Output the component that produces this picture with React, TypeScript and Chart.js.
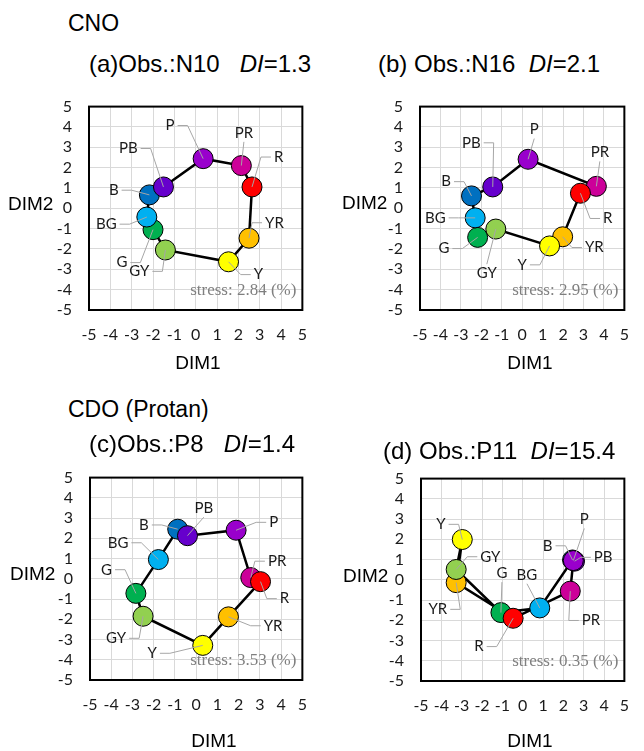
import React, { useEffect, useRef } from "react";
import { Chart, registerables } from "chart.js";
Chart.register(...registerables);

// Colour categories (loop order used for the connecting line)
const categories = ["R", "YR", "Y", "GY", "G", "BG", "B", "PB", "P", "PR"];
const pointColors = ["#FF0000", "#FFC000", "#FFFF00", "#92D050", "#00B050", "#00B0F0", "#0070C0", "#6600CC", "#9900CC", "#CC0099"];
// order in which markers are stacked (last on top)
const drawOrder = ["PR", "G", "R", "YR", "Y", "GY", "BG", "B", "PB", "P"];
const axisMin = -5;
const axisMax = 5;

// (a) Obs.:N10
const dim1A = [2.64, 2.5, 1.54, -1.42, -2.0, -2.29, -2.17, -1.51, 0.35, 2.14];
const dim2A = [1.05, -1.47, -2.63, -2.05, -1.05, -0.43, 0.66, 1.05, 2.44, 2.1];
const labelXA = [3.89, 3.69, 2.94, -2.64, -3.46, -4.19, -3.84, -3.16, -1.2, 2.26];
const labelYA = [2.52, -0.71, -3.26, -3.1, -2.67, -0.78, 0.89, 2.94, 4.07, 3.71];
const stressA = "stress: 2.84 (%)";

// (b) Obs.:N16
const dim1B = [2.85, 1.98, 1.34, -1.29, -2.18, -2.3, -2.48, -1.44, 0.29, 3.63];
const dim2B = [0.74, -1.4, -1.85, -1.02, -1.43, -0.47, 0.61, 1.05, 2.41, 1.08];
const labelXB = [4.19, 3.53, 0.0, -1.73, -3.83, -4.25, -3.72, -2.49, 0.59, 3.8];
const labelYB = [-0.5, -1.93, -2.78, -3.19, -1.98, -0.47, 1.31, 3.22, 3.87, 2.75];
const stressB = "stress: 2.95 (%)";

// (c) Obs.:P8
const dim1C = [3.03, 1.52, 0.31, -2.5, -2.84, -1.78, -0.87, -0.41, 1.88, 2.57];
const dim2C = [-0.14, -1.88, -3.29, -1.85, -0.72, 0.95, 2.45, 2.13, 2.4, 0.06];
const labelXC = [4.16, 3.62, -2.07, -3.77, -4.22, -3.68, -2.46, 0.36, 3.65, 3.81];
const labelYC = [-0.98, -2.32, -3.68, -2.94, 0.45, 1.78, 2.66, 3.49, 2.79, 0.87];
const stressC = "stress: 3.53 (%)";

// (d) Obs.:P11
const dim1D = [-0.47, -3.27, -2.97, -3.27, -1.07, 0.84, 2.45, 2.55, 2.49, 2.34];
const dim2D = [-1.9, -0.14, 1.99, 0.51, -1.62, -1.39, 0.98, 0.92, 0.95, -0.56];
const labelXD = [-2.15, -4.17, -4.02, -1.59, -1.02, 0.21, 1.23, 3.96, 3.03, 3.36];
const labelYD = [-3.3, -1.46, 2.74, 1.14, 0.33, 0.25, 1.68, 1.11, 2.98, -2.01];
const stressD = "stress: 0.35 (%)";

type PanelProps = {
  dim1: number[];
  dim2: number[];
  labelX: number[];
  labelY: number[];
  stress: string;
  left: number;
  top: number;
  width: number;
  height: number;
  yAxisWidth: number;
  xAxisHeight: number;
  padTop: number;
  padRight: number;
};

function Panel(p: PanelProps) {
  const ref = useRef<HTMLCanvasElement | null>(null);
  useEffect(() => {
    if (!ref.current) return;
    const loop = [...categories, categories[0]].map((c) => {
      const i = categories.indexOf(c);
      return { x: p.dim1[i], y: p.dim2[i] };
    });
    const pts = drawOrder.map((c) => {
      const i = categories.indexOf(c);
      return { x: p.dim1[i], y: p.dim2[i] };
    });
    const cols = drawOrder.map((c) => pointColors[categories.indexOf(c)]);

    const overlay = {
      id: "overlay",
      beforeDatasetsDraw(chart: any) {
        const { ctx, chartArea: a } = chart;
        ctx.save();
        ctx.strokeStyle = "#000";
        ctx.lineWidth = 2;
        ctx.strokeRect(a.left, a.top, a.right - a.left, a.bottom - a.top);
        ctx.restore();
      },
      afterDatasetsDraw(chart: any) {
        const { ctx, chartArea: a, scales } = chart;
        const xs = scales.x;
        const ys = scales.y;
        ctx.save();
        ctx.font = "15px Lato";
        ctx.textAlign = "center";
        ctx.textBaseline = "middle";
        ctx.lineWidth = 1;
        ctx.strokeStyle = "#A6A6A6";
        categories.forEach((c, i) => {
          const px = xs.getPixelForValue(p.dim1[i]);
          const py = ys.getPixelForValue(p.dim2[i]);
          const lx = xs.getPixelForValue(p.labelX[i]);
          const ly = ys.getPixelForValue(p.labelY[i]);
          const w = ctx.measureText(c).width;
          ctx.beginPath();
          if (Math.abs(lx - px) < w / 2 + 8) {
            const sy = ly < py ? ly + 9 : ly - 9;
            ctx.moveTo(lx, sy);
            ctx.lineTo(px, py);
          } else {
            const dir = px > lx ? 1 : -1;
            const sx = lx + dir * (w / 2 + 3);
            const ex = sx + dir * 10;
            ctx.moveTo(sx, ly);
            ctx.lineTo(ex, ly);
            ctx.lineTo(px, py);
          }
          ctx.stroke();
          ctx.fillStyle = "#1a1a1a";
          ctx.fillText(c, lx, ly);
        });
        ctx.font = '17px "Liberation Serif", "Times New Roman", serif';
        ctx.fillStyle = "#7F7F7F";
        ctx.textAlign = "right";
        ctx.fillText(p.stress, a.right - 6, a.bottom - 19);
        ctx.restore();
      },
    };

    const tickFont = { family: "Lato", size: 16 };
    const chart = new Chart(ref.current, {
      type: "scatter",
      data: {
        datasets: [
          {
            data: pts,
            pointBackgroundColor: cols,
            pointBorderColor: "#000",
            pointBorderWidth: 1,
            pointRadius: 10,
            showLine: false,
          },
          {
            data: loop,
            showLine: true,
            borderColor: "#000",
            borderWidth: 2.5,
            pointRadius: 0,
            tension: 0,
            fill: false,
          },
        ],
      } as any,
      options: {
        animation: false,
        responsive: false,
        events: [],
        layout: { autoPadding: false, padding: { top: p.padTop, right: p.padRight, left: 0, bottom: 0 } } as any,
        plugins: { legend: { display: false }, tooltip: { enabled: false } },
        scales: {
          x: {
            type: "linear",
            min: axisMin,
            max: axisMax,
            ticks: { stepSize: 1, font: tickFont, color: "#1a1a1a", padding: 15, maxRotation: 0, autoSkip: false },
            grid: { color: "#D9D9D9", lineWidth: 1, drawTicks: false },
            border: { display: false },
            afterFit: (s: any) => {
              s.height = p.xAxisHeight;
            },
          },
          y: {
            type: "linear",
            min: axisMin,
            max: axisMax,
            ticks: { stepSize: 1, font: tickFont, color: "#1a1a1a", padding: 17, autoSkip: false },
            grid: { color: "#D9D9D9", lineWidth: 1, drawTicks: false },
            border: { display: false },
            afterFit: (s: any) => {
              s.width = p.yAxisWidth;
            },
          },
        },
      } as any,
      plugins: [overlay],
    });
    return () => chart.destroy();
  }, []);
  return (
    <canvas
      ref={ref}
      width={p.width}
      height={p.height}
      style={{ position: "absolute", left: p.left, top: p.top, width: p.width, height: p.height }}
    />
  );
}

const sans = '"Liberation Sans", Arial, sans-serif';

function Txt(props: { x: number; y: number; size: number; center?: boolean; children: any }) {
  return (
    <div
      style={{
        position: "absolute",
        left: props.x,
        top: props.y,
        transform: props.center ? "translate(-50%, -50%)" : "translate(0, -50%)",
        fontFamily: sans,
        fontSize: props.size,
        lineHeight: 1,
        whiteSpace: "pre",
        color: "#000",
      }}
    >
      {props.children}
    </div>
  );
}

export default function App() {
  return (
    <div style={{ position: "fixed", left: 0, top: 0, width: 644, height: 751, background: "#fff", overflow: "hidden" }}>
      <Panel dim1={dim1A} dim2={dim2A} labelX={labelXA} labelY={labelYA} stress={stressA}
        left={0} top={80} width={322} height={300} yAxisWidth={89} xAxisHeight={70} padTop={15} padRight={11} />
      <Panel dim1={dim1B} dim2={dim2B} labelX={labelXB} labelY={labelYB} stress={stressB}
        left={330} top={80} width={314} height={300} yAxisWidth={90} xAxisHeight={70} padTop={15} padRight={3} />
      <Panel dim1={dim1C} dim2={dim2C} labelX={labelXC} labelY={labelYC} stress={stressC}
        left={0} top={451} width={322} height={300} yAxisWidth={90} xAxisHeight={71} padTop={15} padRight={13} />
      <Panel dim1={dim1D} dim2={dim2D} labelX={labelXD} labelY={labelYD} stress={stressD}
        left={330} top={452} width={314} height={299} yAxisWidth={91} xAxisHeight={70} padTop={15} padRight={3} />

      <Txt x={68} y={23} size={23}>CNO</Txt>
      <Txt x={89} y={64} size={24}>(a)Obs.:N10   <i>DI</i>=1.3</Txt>
      <Txt x={378} y={64} size={24}>(b) Obs.:N16  <i>DI</i>=2.1</Txt>
      <Txt x={68} y={409} size={23}>CDO (Protan)</Txt>
      <Txt x={89} y={444} size={24}>(c)Obs.:P8   <i>DI</i>=1.4</Txt>
      <Txt x={383} y={451} size={24}>(d) Obs.:P11  <i>DI</i>=15.4</Txt>

      <Txt x={8} y={203} size={19}>DIM2</Txt>
      <Txt x={342} y={202} size={19}>DIM2</Txt>
      <Txt x={10} y={573} size={19}>DIM2</Txt>
      <Txt x={343} y={575} size={19}>DIM2</Txt>

      <Txt x={198} y={362} size={19} center>DIM1</Txt>
      <Txt x={530} y={362} size={19} center>DIM1</Txt>
      <Txt x={214} y={740} size={19} center>DIM1</Txt>
      <Txt x={530} y={740} size={19} center>DIM1</Txt>
    </div>
  );
}
